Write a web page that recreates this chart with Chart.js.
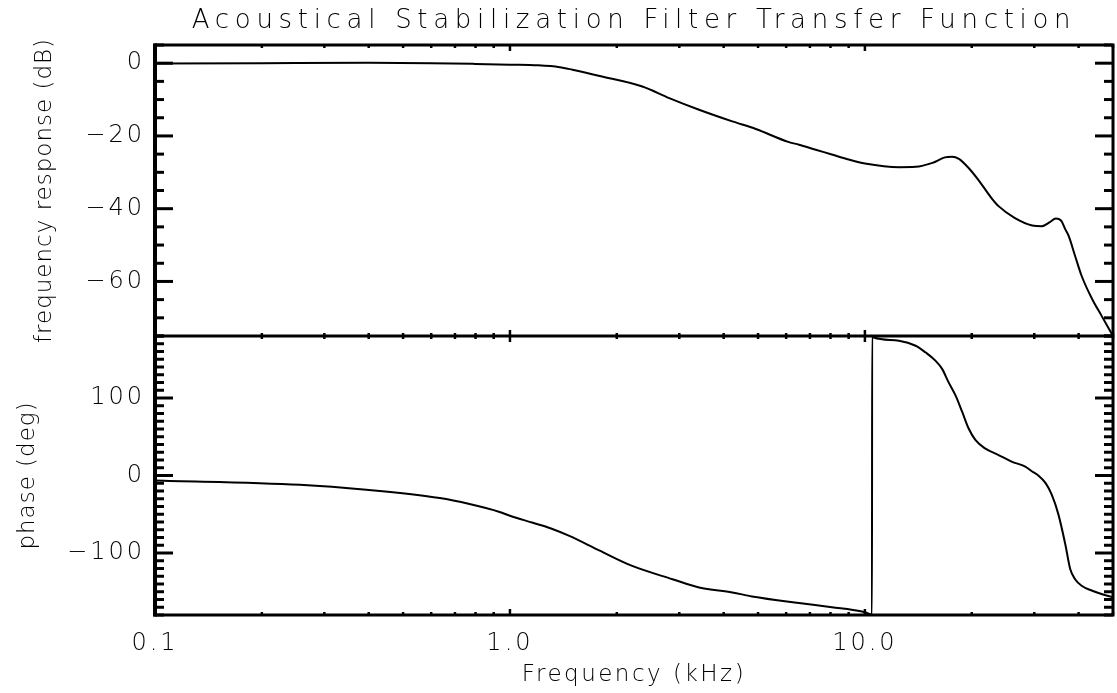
<!DOCTYPE html>
<html>
<head>
<meta charset="utf-8">
<script src="https://cdn.jsdelivr.net/npm/chart.js@4"></script>
<style>
  html, body { margin: 0; padding: 0; background: #fff; }
  canvas { display: block; }
</style>
</head>
<body>
<canvas id="c" width="1117" height="693"></canvas>
<script>
// ---------- data ----------
const chartTitle = 'Acoustical Stabilization Filter Transfer Function';
const xAxisTitle = 'Frequency (kHz)';
const magAxisTitle = 'frequency response (dB)';
const phaseAxisTitle = 'phase (deg)';

const xTickValues = [0.1, 1, 10];
const xTickLabels = ['0.1', '1.0', '10.0'];
const magTickValues = [0, -20, -40, -60];
const magTickLabels = ['0', '\u221220', '\u221240', '\u221260'];
const phaseTickValues = [100, 0, -100];
const phaseTickLabels = ['100', '0', '\u2212100'];

const magFreq = [0.1, 0.2, 0.4, 0.6, 0.8, 1.0, 1.2, 1.38, 1.5, 1.79,
  2.36, 2.81, 3.41, 4.23, 4.93, 6.11, 6.52, 7.27, 8.07, 9.0,
  10.0, 12.5, 13.9, 15.5, 16.8, 17.6, 18.4, 19.6, 21.0, 22.7,
  23.8, 26.4, 29.6, 31.5, 33.2, 34.5, 35.8, 36.7, 37.5, 39.1,
  40.8, 43.7, 46.4, 50];
const magDb = [-0.1, 0, 0.1, 0, -0.2, -0.4, -0.6, -1.1, -1.8, -3.5,
  -6.4, -9.6, -12.8, -16.0, -18.1, -21.7, -22.4, -23.8, -25.1, -26.5,
  -27.6, -28.6, -28.5, -27.4, -25.9, -25.7, -26.3, -28.8, -32.4, -37.0,
  -39.3, -42.5, -44.6, -44.8, -43.7, -42.7, -43.4, -45.7, -47.5, -53.0,
  -58.5, -64.9, -69.4, -75];

const phaseFreq = [0.1, 0.256, 0.394, 0.634, 0.769, 0.935, 1.0, 1.16, 1.3, 1.47,
  1.79, 2.21, 2.87, 3.41, 4.23, 4.81, 6.52, 8.07, 9.81, 10.3,
  10.47, 10.48, 10.6, 12.47, 13.9, 14.8, 15.8, 16.5, 17.2, 18.0,
  18.8, 19.6, 20.5, 21.8, 23.8, 25.9, 28.3, 29.6, 30.8, 32.3,
  33.6, 35.1, 36.7, 37.9, 39.1, 40.8, 43.7, 46.4, 50];
const phaseDeg = [-6.4, -12, -18.4, -29.1, -36.8, -47, -52, -61, -68, -78,
  -97, -116.7, -133.8, -144.5, -150.9, -156, -164.6, -170, -175.6, -178.5,
  -180, 180, 178, 173.8, 167.4, 159, 148.2, 137.6, 120.5, 103.3,
  82, 60.6, 45.6, 35, 26.4, 17.9, 11.5, 5.1, 0, -9.9,
  -24.8, -50.5, -89, -121, -133.8, -142.3, -148.7, -153, -157.3];

// ---------- styling ----------
const FONT = '"DejaVu Sans", "Open Sans", sans-serif';
const INK = '#000';

const toPoints = (xs, ys) => xs.map((x, i) => ({ x: x, y: ys[i] }));

// letter spacing for the Hershey-like wide lettering
const spacingPlugin = {
  id: 'spacing',
  beforeDraw(chart) {
    const wrap = (obj, name, sp) => {
      if (!obj || obj['__w_' + name]) return;
      const orig = obj[name];
      obj[name] = function () {
        const c = chart.ctx;
        const prev = c.letterSpacing;
        c.letterSpacing = sp;
        try { return orig.apply(this, arguments); }
        finally { c.letterSpacing = prev; }
      };
      obj['__w_' + name] = true;
    };
    wrap(chart.titleBlock, 'draw', '5.7px');
    wrap(chart.scales.x, 'drawLabels', '3px');
    wrap(chart.scales.x, 'drawTitle', '2.5px');
    wrap(chart.scales.yMag, 'drawLabels', '3px');
    wrap(chart.scales.yMag, 'drawTitle', '1px');
    wrap(chart.scales.yPh, 'drawLabels', '3px');
    wrap(chart.scales.yPh, 'drawTitle', '1px');
  }
};

// IDL-style frame with inward ticks
const framePlugin = {
  id: 'frame',
  afterDatasetsDraw(chart) {
    const { ctx, scales, chartArea } = chart;
    const xs = scales.x, ym = scales.yMag, yp = scales.yPh;
    const L = chartArea.left, R = chartArea.right;
    const T = chartArea.top, B = chartArea.bottom;
    const M = Math.min(ym.bottom, yp.bottom) === B ? Math.max(ym.top, yp.top) : Math.min(ym.bottom, yp.bottom);
    ctx.save();
    ctx.strokeStyle = INK;
    ctx.lineCap = 'butt';

    const hline = (x1, x2, y) => { ctx.beginPath(); ctx.moveTo(x1, y); ctx.lineTo(x2, y); ctx.stroke(); };
    const vline = (x, y1, y2) => { ctx.beginPath(); ctx.moveTo(x, y1); ctx.lineTo(x, y2); ctx.stroke(); };

    // y ticks (left and right, pointing inward)
    const yTicks = (scale, minor, major) => {
      ctx.lineWidth = 3;
      const n = Math.round((scale.max - scale.min) / minor);
      for (let k = 0; k <= n; k++) {
        const v = scale.min + k * minor;
        const py = scale.getPixelForValue(v);
        const len = (Math.abs(v % major) < 1e-6) ? 18 : 9;
        hline(L, L + len, py);
        hline(R - len, R, py);
      }
    };
    yTicks(ym, 5, 20);
    yTicks(yp, 10, 100);

    // x ticks on top, middle and bottom lines
    ctx.lineWidth = 2.5;
    [0.1, 1, 10].forEach(d => {
      for (let m = 1; m <= 9; m++) {
        const v = m * d;
        if (v < xs.min - 1e-9 || v > xs.max + 1e-9) continue;
        const px = xs.getPixelForValue(v);
        const len = m === 1 ? 6 : 3;
        vline(px, T, T + len);
        vline(px, M - len, M + len);
        vline(px, B - len, B);
      }
    });

    // frame
    ctx.lineWidth = 3;
    ctx.strokeRect(L, T, R - L, B - T);
    hline(L, R, M);
    ctx.lineWidth = 4;
    vline(L, T - 1.5, B + 1.5);
    ctx.restore();
  }
};

const tickFont = { family: FONT, size: 24, weight: 200 };
const labelFont = { family: FONT, size: 23, weight: 200, lineHeight: 1.2 };

new Chart(document.getElementById('c'), {
  type: 'line',
  data: {
    datasets: [
      {
        data: toPoints(magFreq, magDb),
        xAxisID: 'x', yAxisID: 'yMag',
        borderColor: INK, borderWidth: 2, pointRadius: 0,
        cubicInterpolationMode: 'monotone', fill: false
      },
      {
        data: toPoints(phaseFreq, phaseDeg),
        xAxisID: 'x', yAxisID: 'yPh',
        borderColor: INK, borderWidth: 2, pointRadius: 0,
        cubicInterpolationMode: 'monotone', fill: false
      }
    ]
  },
  options: {
    responsive: false,
    animation: false,
    events: [],
    layout: { padding: { left: 0, right: 4, top: 0, bottom: 0 } },
    plugins: {
      legend: { display: false },
      tooltip: { enabled: false },
      title: {
        display: true, text: chartTitle, fullSize: false, color: INK,
        font: { family: FONT, size: 26, weight: 200, lineHeight: 1.2 },
        padding: { top: 6, bottom: 7.8 }
      }
    },
    scales: {
      x: {
        type: 'logarithmic', position: 'bottom', min: 0.1, max: 50,
        grid: { display: false, drawTicks: false }, border: { display: false },
        afterBuildTicks: s => { s.ticks = xTickValues.map(v => ({ value: v })); },
        afterFit: s => { s.height = 78; },
        ticks: {
          autoSkip: false, maxRotation: 0, minRotation: 0, padding: 14.4, color: INK, font: tickFont,
          callback: (v, i) => xTickLabels[i]
        },
        title: { display: true, text: xAxisTitle, color: INK, font: labelFont, padding: { top: 0, bottom: 4.2 } }
      },
      yPh: {
        type: 'linear', position: 'left', stack: 'panels', stackWeight: 279,
        min: -180, max: 180,
        grid: { display: false, drawTicks: false }, border: { display: false },
        afterBuildTicks: s => { s.ticks = phaseTickValues.map(v => ({ value: v })); },
        afterFit: s => { s.width = 155; },
        ticks: { autoSkip: false, padding: 10, color: INK, font: tickFont, callback: (v, i) => phaseTickLabels[i] },
        title: { display: true, text: phaseAxisTitle, color: INK, font: labelFont, padding: { top: 14.7, bottom: 0 } }
      },
      yMag: {
        type: 'linear', position: 'left', stack: 'panels', stackWeight: 291,
        min: -75, max: 5,
        grid: { display: false, drawTicks: false }, border: { display: false },
        afterBuildTicks: s => { s.ticks = magTickValues.map(v => ({ value: v })); },
        afterFit: s => { s.width = 155; },
        ticks: { autoSkip: false, padding: 10, color: INK, font: tickFont, callback: (v, i) => magTickLabels[i] },
        title: { display: true, text: magAxisTitle, color: INK, font: labelFont, padding: { top: 31, bottom: 0 } }
      }
    }
  },
  plugins: [spacingPlugin, framePlugin]
});
</script>
</body>
</html>
